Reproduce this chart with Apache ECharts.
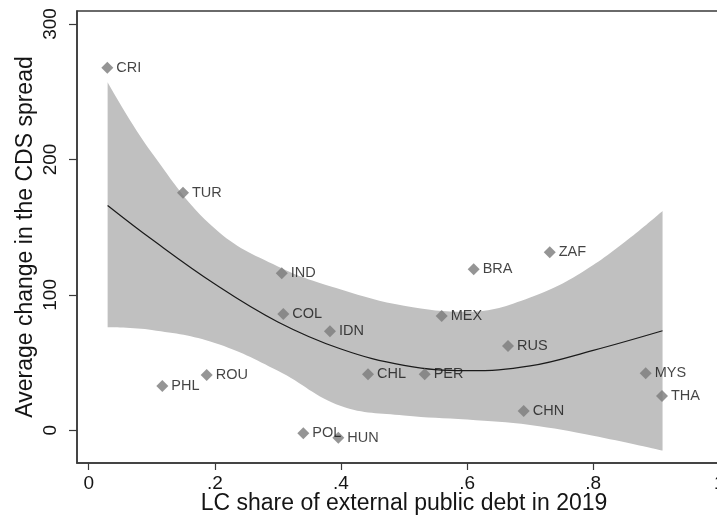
<!DOCTYPE html>
<html>
<head>
<meta charset="utf-8">
<script src="https://cdn.jsdelivr.net/npm/echarts@6/dist/echarts.min.js"></script>
<style>
  html, body { margin: 0; padding: 0; overflow: hidden; background: #fff; }
  #chart { width: 760px; height: 516px; }
</style>
</head>
<body>
<div id="chart"></div>
<script>
// countries and their values
const countries = ['CRI', 'TUR', 'IND', 'COL', 'IDN', 'PHL', 'ROU', 'POL', 'HUN', 'CHL',
  'PER', 'MEX', 'BRA', 'ZAF', 'RUS', 'CHN', 'MYS', 'THA'];
const lcShare = [0.0295, 0.1495, 0.3061, 0.3086, 0.3826, 0.1167, 0.1871, 0.3403, 0.3958, 0.4429,
  0.5328, 0.5598, 0.6105, 0.7311, 0.6649, 0.6898, 0.8833, 0.9091];
const cdsChange = [267.7, 175.4, 115.9, 85.9, 73.1, 32.7, 40.8, -2.2, -5.5, 41.3,
  41.3, 84.4, 118.9, 131.4, 62.2, 14.3, 42.1, 25.3];

// quadratic fit and its confidence band
const fitX = [0.03, 0.1, 0.2, 0.3, 0.4, 0.5, 0.6, 0.7, 0.8, 0.91];
const fitY = [166, 141, 108, 80, 60, 48, 44, 47.5, 59, 73.5];
const ciLow = [76, 74, 64.5, 44, 18, 11, 8, 4, -4, -15];
const ciHigh = [257, 205, 149, 121, 104, 92, 87.5, 98, 122, 162];

const xTicks = [0, 0.2, 0.4, 0.6, 0.8, 1];
const yTicks = [0, 100, 200, 300];

const font = "'Liberation Sans', Arial, sans-serif";
const ink = '#151515';
const frame = '#3a3a3a';

const chart = echarts.init(document.getElementById('chart'));

// band series: value first so that the stack runs on y, x second
const bandDims = ['v', 'x'];

chart.setOption({
  animation: false,
  grid: {
    left: 77, top: 11, right: 29, bottom: 53,
    outerBoundsMode: 'none',
    containLabel: false,
    show: true, borderColor: frame, borderWidth: 1.5
  },
  xAxis: {
    type: 'value',
    min: -0.01855,
    max: 1.01855,
    name: 'LC share of external public debt in 2019',
    nameLocation: 'middle',
    nameGap: 29,
    nameMoveOverlap: false,
    nameTextStyle: { fontFamily: font, fontSize: 23, color: ink },
    axisLine: { show: true, onZero: false, lineStyle: { color: frame, width: 1.5 } },
    axisTick: { show: true, length: 7, customValues: xTicks, lineStyle: { color: frame, width: 1.2 } },
    axisLabel: {
      customValues: xTicks,
      margin: 11,
      fontFamily: font, fontSize: 19, color: ink,
      formatter: v => (v === 0 || v === 1) ? String(v) : String(+v.toFixed(1)).replace('0.', '.')
    },
    splitLine: { show: false }
  },
  yAxis: {
    type: 'value',
    min: -24.15,
    max: 309.6,
    name: 'Average change in the CDS spread',
    nameLocation: 'middle',
    nameGap: 40,
    nameMoveOverlap: false,
    nameTextStyle: { fontFamily: font, fontSize: 23, color: ink },
    axisLine: { show: true, onZero: false, lineStyle: { color: frame, width: 1.5 } },
    axisTick: { show: true, length: 8, customValues: yTicks, lineStyle: { color: frame, width: 1.2 } },
    axisLabel: {
      customValues: yTicks,
      rotate: 90,
      margin: 17,
      fontFamily: font, fontSize: 19, color: ink
    },
    splitLine: { show: false }
  },
  series: [
    {
      type: 'line',
      dimensions: bandDims,
      encode: { x: 'x', y: 'v' },
      stack: 'ci',
      stackStrategy: 'all',
      data: fitX.map((x, i) => [ciLow[i], x]),
      smooth: 0.4,
      symbol: 'none',
      lineStyle: { opacity: 0 },
      silent: true,
      z: 1
    },
    {
      type: 'line',
      dimensions: bandDims,
      encode: { x: 'x', y: 'v' },
      stack: 'ci',
      stackStrategy: 'all',
      data: fitX.map((x, i) => [ciHigh[i] - ciLow[i], x]),
      smooth: 0.4,
      symbol: 'none',
      lineStyle: { opacity: 0 },
      areaStyle: { color: '#c0c0c0', opacity: 1 },
      silent: true,
      z: 1
    },
    {
      type: 'line',
      data: fitX.map((x, i) => [x, fitY[i]]),
      smooth: 0.4,
      symbol: 'none',
      lineStyle: { color: '#1a1a1a', width: 1.2 },
      silent: true,
      z: 2
    },
    {
      type: 'scatter',
      data: countries.map((c, i) => [lcShare[i], cdsChange[i], c]),
      symbol: 'diamond',
      symbolSize: 12,
      itemStyle: { color: '#7a7a7a' },
      z: 3,
      label: {
        show: true,
        position: 'right',
        distance: 3,
        formatter: p => p.data[2],
        fontFamily: font,
        fontSize: 14.5,
        color: ink
      }
    }
  ]
});
</script>
</body>
</html>
